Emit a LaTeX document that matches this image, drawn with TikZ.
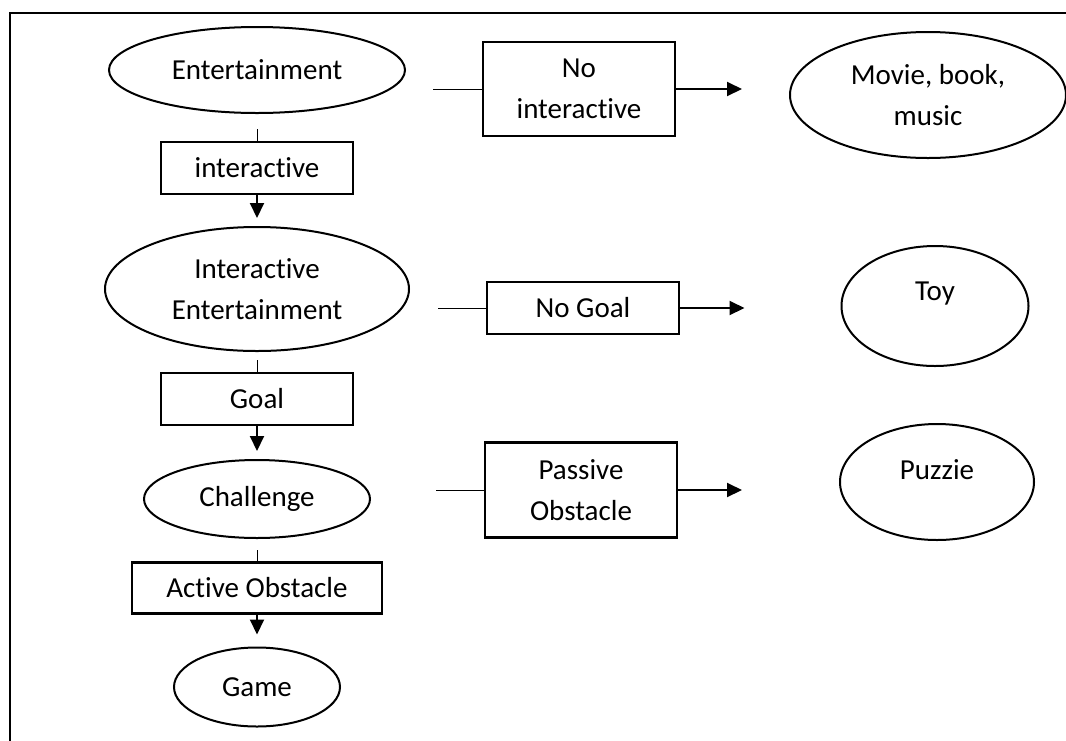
\documentclass[tikz,border=0pt]{standalone}
\usepackage{fontspec}
\setmainfont{Carlito}[Ligatures=NoCommon]
\usepackage{tikz}
\usetikzlibrary{arrows.meta}
\usetikzlibrary{shapes.geometric}
\tikzset{
    oval/.style={
        draw,
        ellipse,
        line width=2pt,
        inner sep=0pt,
        align=center
    },
    labelbox/.style={
        draw,
        rectangle,
        line width=2.3pt,
        inner sep=0pt,
        minimum width=192pt,
        align=center
    },
    link/.style={
        draw,
        line width=1pt
    },
    flow/.style={
        draw,
        line width=2pt,
        -{Triangle[length=15pt, width=14pt]}
    }
}

\begin{document}
\begin{tikzpicture}[
      x = 1pt,
      y = -1pt,
      font = \fontsize{29}{41}\selectfont,
      frame/.style = {draw, line width=2.3pt}
  ]
  \clip (0,0) rectangle (1066,740);
  \useasboundingbox (0,0) rectangle (1066,740);
  \draw[frame] (10,13) rectangle (1100,780);

  % Define the main column (nodes)
  \node[oval, minimum width=296pt, minimum height=86pt] (ent) at (257,70) {Entertainment};
  \node[labelbox, minimum height=52pt] (inter) at (257,168) {interactive};
  \node[oval, minimum width=304pt, minimum height=124pt] (ient) at (257,289) {Interactive\\Entertainment};
  \node[labelbox, minimum height=52pt] (goal) at (257,399) {Goal};
  \node[oval, minimum width=226pt, minimum height=78pt] (chal) at (257,499) {Challenge};
  \node[labelbox, minimum width=250pt, minimum height=51pt] (active) at (257,588) {Active Obstacle};
  \node[oval, minimum width=166pt, minimum height=79pt] (game) at (257,687) {Game};

  % Define the side branches
  \node[labelbox, minimum height=94pt] (noint) at (579,89) {No\\interactive};
  \node[labelbox, minimum height=52pt] (nogoal) at (583,308) {No Goal};
  \node[labelbox, minimum height=95pt] (passive) at (581,490) {Passive\\Obstacle};

  \node[oval, minimum width=276pt, minimum height=126pt] (movie) at (928,95) {Movie, book,\\music};
  \node[oval, minimum width=187pt, minimum height=120pt, label={[yshift=12pt]center:Toy}] (toy) at (935,306) {};
  \node[oval, minimum width=194pt, minimum height=116pt, label={[yshift=12pt]center:Puzzie}] (puzz) at (937,482) {};

  % Define the edges
  % Down the column
  \path[link, shorten <=15pt] (ent) -- (inter);
  \path[flow, shorten >=8pt] (inter) -- (ient);
  \path[link, shorten <=8pt] (ient) -- (goal);
  \path[flow, shorten >=8pt] (goal) -- (chal);
  \path[link, shorten <=11pt] (chal) -- (active);
  \path[flow, shorten >=12pt] (active) -- (game);

  % Out to the right
  \path[link, shorten <=27pt] (noint.west -| ent.east) -- (noint.west);
  \path[flow, shorten >=47pt] (noint.east) -- (noint.east -| movie.west);
  \path[link, shorten <=28pt] (nogoal.west -| ient.east) -- (nogoal.west);
  \path[flow, shorten >=96pt] (nogoal.east) -- (nogoal.east -| toy.west);
  \path[link, shorten <=65pt] (passive.west -| chal.east) -- (passive.west);
  \path[flow, shorten >=97pt] (passive.east) -- (passive.east -| puzz.west);
  \end{tikzpicture}
\end{document}
